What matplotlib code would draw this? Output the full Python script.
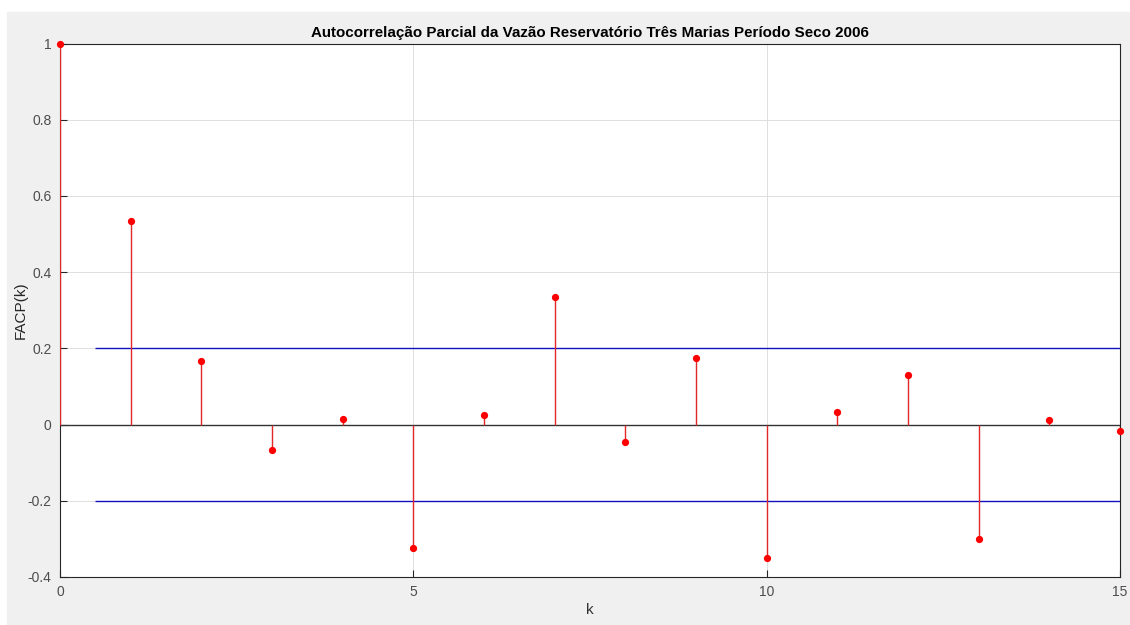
import matplotlib.pyplot as plt
from matplotlib.patches import Rectangle

plt.rcParams['font.family'] = ['Liberation Sans', 'DejaVu Sans']

# Partial autocorrelation values
lags = list(range(16))
facp = [1.0, 0.534, 0.168, -0.066, 0.015, -0.324, 0.026, 0.334,
        -0.047, 0.176, -0.350, 0.034, 0.129, -0.300, 0.012, -0.018]
conf_limit = 0.2
conf_start = 0.5
xticks = [0, 5, 10, 15]
yticks = [-0.4, -0.2, 0, 0.2, 0.4, 0.6, 0.8, 1]

fig = plt.figure(figsize=(11.3, 6.25), dpi=100, facecolor='white')
fig.patches.append(Rectangle((7 / 1130, 0), 1, (625 - 12) / 625,
                             transform=fig.transFigure, color='#f0f0f0',
                             zorder=-10))
ax = fig.add_axes([60 / 1130, 48 / 625, 1060 / 1130, 533.5 / 625])

ax.vlines(lags, 0, facp, color='#e02828', lw=1.0, zorder=3)
ax.plot(lags, facp, 'o', color='red', ms=4.2, zorder=4, clip_on=False)
ax.axhline(0, color='#333333', lw=1.0, zorder=2)
ax.hlines([conf_limit, -conf_limit], conf_start, lags[-1], color='#1010c0',
          lw=1.0, zorder=2)

ax.set_xlim(0, 15)
ax.set_ylim(-0.4, 1)
ax.set_xticks(xticks)
ax.set_yticks(yticks)
ax.set_yticklabels(['-0.4', '-0.2', '0', '0.2', '0.4', '0.6', '0.8', '1'])
ax.grid(True, color='#dedede', lw=0.7)
ax.set_axisbelow(True)
ax.tick_params(direction='in', length=5, width=0.8, colors='#262626',
               labelcolor='#4d4d4d', labelsize=10)
ax.tick_params(axis='y', pad=6)
ax.tick_params(axis='x', pad=6)
for s in ax.spines.values():
    s.set_color('#262626')
    s.set_linewidth(0.8)

ax.set_title('Autocorrelação Parcial da Vazão Reservatório Três Marias Período Seco 2006',
             fontsize=10.9, fontweight='bold', color='black', pad=5)
ax.set_xlabel('k', fontsize=11, color='#333333', labelpad=3)
ax.set_ylabel('FACP(k)', fontsize=11, color='#262626', labelpad=0)

fig.savefig('out.png', dpi=100, facecolor=fig.get_facecolor())
